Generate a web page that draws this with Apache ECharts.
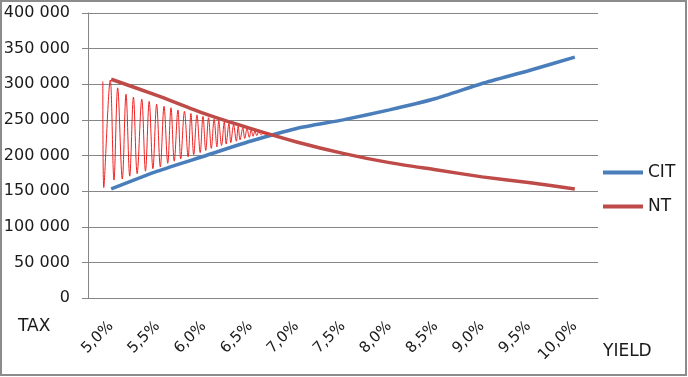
<!DOCTYPE html>
<html>
<head>
<meta charset="utf-8">
<script src="https://cdn.jsdelivr.net/npm/echarts@6/dist/echarts.min.js"></script>
<style>
  html, body { margin: 0; padding: 0; background: #fff; }
  #chart { width: 688px; height: 377px; }
</style>
</head>
<body>
<div id="chart"></div>
<script>
// yield categories on the x axis
const categories = ['5,0%', '5,5%', '6,0%', '6,5%', '7,0%', '7,5%', '8,0%', '8,5%', '9,0%', '9,5%', '10,0%']
const citValues = [153000, 178000, 199000, 220000, 238000, 250000, 264000, 280000, 301000, 319000, 338000]
const ntValues = [307000, 284000, 259000, 238000, 219000, 203000, 190000, 180000, 170000, 162000, 153000]

// thin oscillating line, read peak by peak (x in yield %)
const waveYield = [4.91, 4.92, 4.99, 5.03, 5.07, 5.12, 5.16, 5.20, 5.24, 5.28, 5.33, 5.37, 5.41, 5.45, 5.49, 5.53,
  5.57, 5.61, 5.645, 5.68, 5.72, 5.75, 5.79, 5.83, 5.86, 5.89, 5.925, 5.96, 5.99, 6.02, 6.05, 6.08, 6.11, 6.14,
  6.16, 6.19, 6.22, 6.24, 6.27, 6.29, 6.32, 6.35, 6.37, 6.39, 6.42, 6.44, 6.465, 6.49, 6.51, 6.53, 6.55, 6.57,
  6.59, 6.62, 6.64, 6.66, 6.675, 6.70]
const waveValue = [304000, 155000, 306000, 165500, 295000, 167000, 286000, 171000, 282000, 174500, 279000, 178000,
  276000, 181500, 272000, 184000, 269000, 189000, 267000, 192000, 264000, 195000, 262000, 198000, 259000, 201000,
  257000, 204000, 255000, 207000, 253000, 210000, 251000, 212000, 249000, 214000, 247000, 216000, 245000, 218000,
  243000, 220000, 241000, 222000, 239000, 224000, 237500, 225500, 236000, 227000, 234500, 228000, 233000, 229000,
  232000, 230000, 231000, 230500]

const font = 'DejaVu Sans'
const gray = '#868686'

const chart = echarts.init(document.getElementById('chart'))

const fmt = v => String(v).replace(/\B(?=(\d{3})+(?!\d))/g, ' ')

chart.setOption({
  animation: false,
  textStyle: { fontFamily: font },
  grid: { left: 88, right: 90, top: 13, bottom: 79 },
  legend: {
    data: ['CIT', 'NT'],
    orient: 'vertical',
    left: 598,
    top: 159,
    icon: 'rect',
    itemWidth: 40,
    itemHeight: 4,
    itemGap: 17,
    textStyle: { fontFamily: font, fontSize: 17, color: '#1a1a1a' }
  },
  xAxis: [
    {
      type: 'category',
      data: categories,
      boundaryGap: true,
      axisLine: { lineStyle: { color: gray } },
      axisTick: { length: 6, lineStyle: { color: gray } },
      axisLabel: {
        rotate: 45,
        interval: 0,
        margin: 26,
        fontFamily: font,
        fontSize: 15,
        color: '#1a1a1a'
      }
    },
    {
      type: 'value',
      min: 4.75,
      max: 10.25,
      show: false
    }
  ],
  yAxis: {
    type: 'value',
    min: 0,
    max: 400000,
    interval: 50000,
    axisLine: { show: true, lineStyle: { color: gray } },
    axisTick: { show: true, length: 6, lineStyle: { color: gray } },
    splitLine: { lineStyle: { color: gray } },
    axisLabel: {
      margin: 18,
      fontFamily: font,
      fontSize: 16,
      color: '#1a1a1a',
      formatter: fmt
    }
  },
  graphic: [
    {
      type: 'rect',
      shape: { x: 1, y: 1, width: 685, height: 374 },
      style: { fill: 'none', stroke: '#8c8c8c', lineWidth: 2 }
    },
    {
      type: 'text', left: 18, top: 318,
      style: { text: 'TAX', font: '17px "DejaVu Sans"', fill: '#1a1a1a' }
    },
    {
      type: 'text', left: 603, top: 343,
      style: { text: 'YIELD', font: '17px "DejaVu Sans"', fill: '#1a1a1a' }
    }
  ],
  series: [
    {
      name: 'CIT',
      type: 'line',
      data: citValues,
      showSymbol: false,
      smooth: 0.2,
      color: '#4a7ebb',
      lineStyle: { width: 3.5, color: '#4a7ebb' }
    },
    {
      name: 'NT',
      type: 'line',
      data: ntValues,
      showSymbol: false,
      smooth: 0.2,
      color: '#be4b48',
      lineStyle: { width: 3.5, color: '#be4b48' }
    },
    {
      name: 'wave',
      type: 'line',
      xAxisIndex: 1,
      data: waveYield.map((x, i) => [x, waveValue[i]]),
      showSymbol: false,
      smooth: 0.35,
      z: 3,
      lineStyle: { width: 1, color: '#f02222' }
    }
  ]
})
</script>
</body>
</html>
